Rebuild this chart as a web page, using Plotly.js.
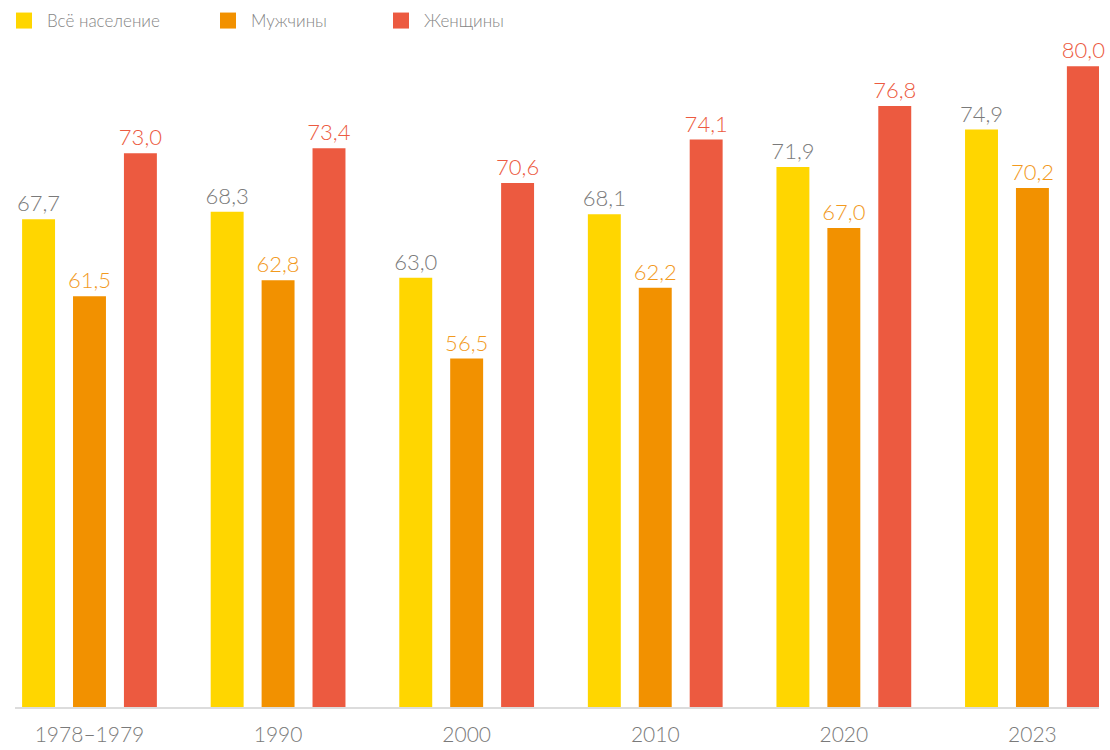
<!DOCTYPE html>
<html><head><meta charset="utf-8">
<script src="https://cdn.plot.ly/plotly-3.0.1.min.js"></script>
<style>html,body{margin:0;padding:0;background:#fff}#chart{width:1110px;height:750px}</style>
</head><body><div id="chart"></div>
<script>
const categories = ['1978–1979', '1990', '2000', '2010', '2020', '2023'];
const seriesNames = ['Всё население', 'Мужчины', 'Женщины'];
const allPop = [67.7, 68.3, 63.0, 68.1, 71.9, 74.9];
const men = [61.5, 62.8, 56.5, 62.2, 67.0, 70.2];
const women = [73.0, 73.4, 70.6, 74.1, 76.8, 80.0];

const colors = ['#FFD600', '#F29100', '#EC5A40'];
const textColors = ['#7a7a7a', '#F29A1E', '#EC5A40'];
const fontFam = 'Lato, Roboto, sans-serif';
const legendIds = ['legend', 'legend2', 'legend3'];

const traces = [allPop, men, women].map((vals, i) => ({
  type: 'bar',
  name: seriesNames[i],
  x: categories,
  y: vals,
  marker: {color: colors[i]},
  texttemplate: '%{y:.1f}',
  textposition: 'outside',
  constraintext: 'none',
  cliponaxis: false,
  textfont: {family: fontFam, size: 22, color: textColors[i], weight: 300},
  showlegend: false,
  hoverinfo: 'x+y'
}));

// legend-only entries (square swatches)
seriesNames.forEach((nm, i) => {
  traces.push({
    type: 'scatter', mode: 'markers', name: nm,
    x: [categories[0]], y: [null],
    marker: {symbol: 'square', size: 17, color: colors[i]},
    legend: legendIds[i], showlegend: true, hoverinfo: 'skip'
  });
});

function leg(xpx) {
  return {
    xref: 'container', yref: 'container',
    x: xpx / 1110, xanchor: 'left', y: 1 - 21 / 750, yanchor: 'middle',
    orientation: 'h', itemwidth: 36, bgcolor: 'rgba(0,0,0,0)',
    font: {family: fontFam, size: 17, color: '#858585', weight: 300}
  };
}

const layout = {
  width: 1110, height: 750,
  margin: {l: 15, r: 11, t: 40, b: 43},
  paper_bgcolor: '#fff', plot_bgcolor: '#fff',
  separators: ', ',
  barmode: 'group',
  bargap: 0.19,
  bargroupgap: 0.353,
  legend: leg(1),
  legend2: leg(205),
  legend3: leg(378),
  xaxis: {
    type: 'category',
    range: [-0.395, 5.353],
    showline: true, linecolor: '#dcdcdc', linewidth: 1.5,
    ticks: '', showgrid: false, zeroline: false,
    tickfont: {family: fontFam, size: 21, color: '#7a7a7a', weight: 300},
    ticklabelstandoff: 8
  },
  yaxis: {
    range: [28.5, 82.1],
    visible: false, showgrid: false, zeroline: false
  }
};

Plotly.newPlot('chart', traces, layout, {displayModeBar: false, staticPlot: true});
</script></body></html>
